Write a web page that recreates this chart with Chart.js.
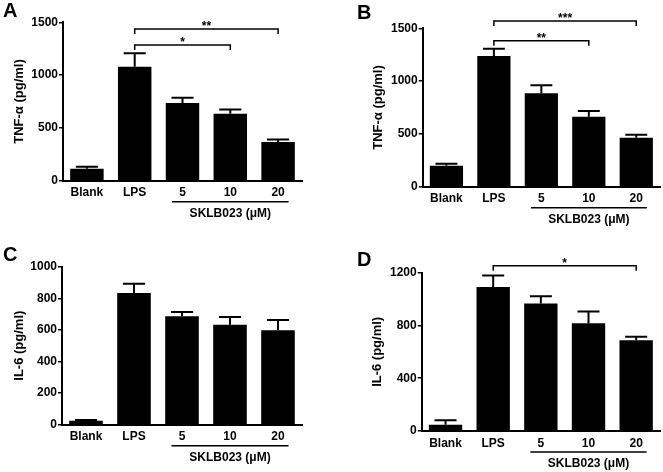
<!DOCTYPE html>
<html>
<head>
<meta charset="utf-8">
<script src="https://cdn.jsdelivr.net/npm/chart.js@4.4.0/dist/chart.umd.min.js"></script>
<style>
  html, body { margin: 0; padding: 0; background: #fff; }
  #wrap { position: relative; width: 663px; height: 472px; overflow: hidden; }
  #wrap canvas { position: absolute; }
</style>
</head>
<body>
<div id="wrap">
  <canvas id="chartA" width="331" height="236" style="left:0;top:0"></canvas>
  <canvas id="chartB" width="332" height="236" style="left:331px;top:0"></canvas>
  <canvas id="chartC" width="331" height="236" style="left:0;top:236px"></canvas>
  <canvas id="chartD" width="332" height="236" style="left:331px;top:236px"></canvas>
</div>
<script>
// data (mean, SEM)
const categories = ["Blank", "LPS", "5", "10", "20"];

const tnfA = [114, 1080, 735, 635, 366];
const tnfAErr = [19, 126, 50, 39, 23];
const tnfB = [199, 1238, 886, 663, 464];
const tnfBErr = [19, 69, 75, 55, 28];
const il6C = [25, 834, 686, 633, 597];
const il6CErr = [5, 58, 27, 49, 66];
const il6D = [48, 1091, 966, 817, 688];
const il6DErr = [33, 88, 56, 89, 26];

// significance brackets: category indexes, height in data units, label
const bracketsA = [
    { from: 1, to: 4, level: 1437, label: "**" },
    { from: 1, to: 3, level: 1285, label: "*" },
];
const bracketsB = [
    { from: 1, to: 4, level: 1569, label: "***" },
    { from: 1, to: 3, level: 1383, label: "**" },
];
const bracketsC = [];
const bracketsD = [
    { from: 1, to: 4, level: 1252, label: "*" },
];

const FONT = "'Liberation Sans', Arial, Helvetica, sans-serif";

const panelDecor = {
    id: "panelDecor",
    afterDatasetsDraw(chart, args, opts) {
        const ctx = chart.ctx;
        const xs = chart.scales.x;
        const ys = chart.scales.y;
        const values = chart.data.datasets[0].data;
        const meta = chart.getDatasetMeta(0);
        ctx.save();
        ctx.strokeStyle = "#000";
        ctx.fillStyle = "#000";

        // error bars (upper only)
        ctx.lineWidth = 2;
        meta.data.forEach((bar, i) => {
            const top = ys.getPixelForValue(values[i]);
            const hi = ys.getPixelForValue(values[i] + opts.errors[i]);
            const half = bar.width * 0.33;
            ctx.beginPath();
            ctx.moveTo(bar.x, top);
            ctx.lineTo(bar.x, hi);
            ctx.moveTo(bar.x - half, hi);
            ctx.lineTo(bar.x + half, hi);
            ctx.stroke();
        });

        // brackets
        ctx.lineWidth = 1.5;
        ctx.font = "bold 12px " + FONT;
        ctx.textAlign = "center";
        ctx.textBaseline = "alphabetic";
        opts.brackets.forEach((b) => {
            const x1 = xs.getPixelForValue(b.from);
            const x2 = xs.getPixelForValue(b.to);
            const yy = ys.getPixelForValue(b.level);
            ctx.beginPath();
            ctx.moveTo(x1, yy + 5);
            ctx.lineTo(x1, yy);
            ctx.lineTo(x2, yy);
            ctx.lineTo(x2, yy + 5);
            ctx.stroke();
            ctx.fillText(b.label, (x1 + x2) / 2, yy + 1);
        });

        // treatment group underline
        const step = xs.getPixelForValue(1) - xs.getPixelForValue(0);
        const u1 = xs.getPixelForValue(2) - step * 0.22;
        const u2 = xs.getPixelForValue(4) + step * 0.22;
        const base = chart.chartArea.bottom;
        ctx.lineWidth = 1.5;
        ctx.beginPath();
        ctx.moveTo(u1, base + 21);
        ctx.lineTo(u2, base + 21);
        ctx.stroke();
        ctx.textBaseline = "middle";
        ctx.fillText("SKLB023 (\u03bcM)", (u1 + u2) / 2, base + 33);

        // panel letter
        ctx.font = "bold 20px " + FONT;
        ctx.textAlign = "left";
        ctx.textBaseline = "alphabetic";
        ctx.fillText(opts.letter, opts.letterX, opts.letterY);
        ctx.restore();
    },
};

function makePanel(id, cfg) {
    const canvas = document.getElementById(id);
    const w = canvas.width;
    const h = canvas.height;
    const tickFont = { family: FONT, size: 12, weight: "bold" };
    return new Chart(canvas, {
        type: "bar",
        data: {
            labels: categories,
            datasets: [
                {
                    data: cfg.values,
                    backgroundColor: "#000",
                    borderWidth: 0,
                    barPercentage: 0.7,
                    categoryPercentage: 1,
                },
            ],
        },
        options: {
            responsive: false,
            animation: false,
            layout: {
                padding: { left: 0, top: cfg.area.top, right: w - cfg.area.right, bottom: 0 },
            },
            plugins: {
                legend: { display: false },
                tooltip: { enabled: false },
                panelDecor: {
                    errors: cfg.errors,
                    brackets: cfg.brackets,
                    letter: cfg.letter,
                    letterX: cfg.letterPos[0],
                    letterY: cfg.letterPos[1],
                },
            },
            scales: {
                x: {
                    grid: { display: false, drawTicks: false },
                    border: { color: "#000", width: 2 },
                    ticks: { color: "#000", font: tickFont, padding: 5, maxRotation: 0 },
                    afterFit: (s) => {
                        s.height = h - cfg.area.bottom;
                    },
                },
                y: {
                    min: 0,
                    max: cfg.max,
                    ticks: {
                        stepSize: cfg.step,
                        color: "#000",
                        font: tickFont,
                        padding: 1,
                        callback: (v) => String(v),
                    },
                    grid: { drawOnChartArea: false, color: "#000", lineWidth: 1.5, tickLength: 4 },
                    border: { color: "#000", width: 2 },
                    title: {
                        display: true,
                        text: cfg.title,
                        color: "#000",
                        font: { family: FONT, size: 13, weight: "bold" },
                        padding: { top: cfg.titlePad, bottom: 0 },
                    },
                    afterFit: (s) => {
                        s.width = cfg.area.left;
                    },
                },
            },
        },
        plugins: [panelDecor],
    });
}

makePanel("chartA", {
    values: tnfA, errors: tnfAErr, brackets: bracketsA,
    max: 1500, step: 500, title: "TNF-\u03b1 (pg/ml)", titlePad: 12,
    area: { left: 63, right: 302, top: 22.3, bottom: 180.7 },
    letter: "A", letterPos: [3, 17],
});
makePanel("chartB", {
    values: tnfB, errors: tnfBErr, brackets: bracketsB,
    max: 1500, step: 500, title: "TNF-\u03b1 (pg/ml)", titlePad: 40,
    area: { left: 91.7, right: 329, top: 28.3, bottom: 186.7 },
    letter: "B", letterPos: [26, 18.5],
});
makePanel("chartC", {
    values: il6C, errors: il6CErr, brackets: bracketsC,
    max: 1000, step: 200, title: "IL-6 (pg/ml)", titlePad: 12,
    area: { left: 62, right: 302, top: 30.7, bottom: 188.7 },
    letter: "C", letterPos: [3, 24.5],
});
makePanel("chartD", {
    values: il6D, errors: il6DErr, brackets: bracketsD,
    max: 1200, step: 400, title: "IL-6 (pg/ml)", titlePad: 39,
    area: { left: 90.7, right: 329, top: 36.7, bottom: 195 },
    letter: "D", letterPos: [26, 29.5],
});
</script>
</body>
</html>
